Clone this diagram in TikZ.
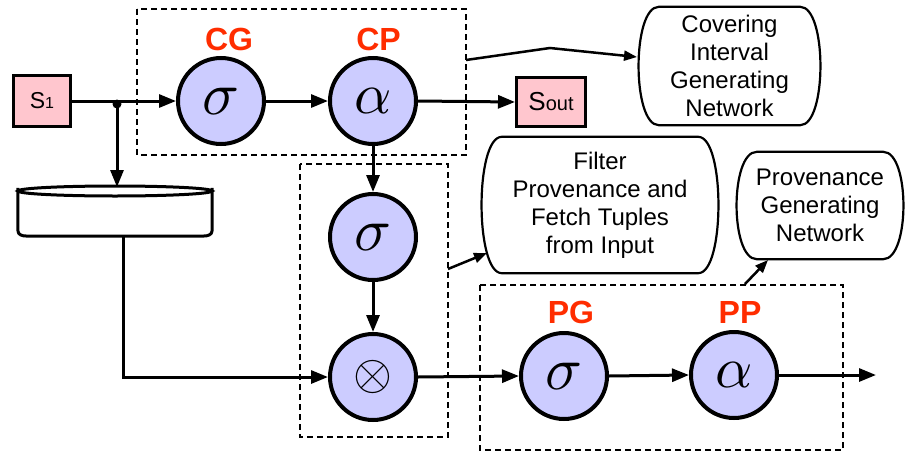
\documentclass[tikz,border=0pt]{standalone}
\usepackage{fontspec}
\usepackage{graphicx}
\setmainfont{Liberation Sans}
\usetikzlibrary{arrows.meta,calc}
\definecolor{cfill}{HTML}{CCCCFF}
\definecolor{pfill}{HTML}{FFC6CE}
\definecolor{lred}{HTML}{FF2D00}
\newcommand\mystad[1]{\draw[line width=2.2] ($(#1.north west)+(20,0)$) -- ($(#1.north east)+(-20,0)$) .. controls ($(#1.north east)+(7,0)$) and ($(#1.south east)+(7,0)$) .. ($(#1.south east)+(-20,0)$) -- ($(#1.south west)+(20,0)$) .. controls ($(#1.south west)+(-7,0)$) and ($(#1.north west)+(-7,0)$) .. cycle;}
\newcommand\bigsym[2]{\scalebox{#1}{$#2$}}
\begin{document}
\begin{tikzpicture}[x=1pt,y=-1pt,
  circ/.style={circle,draw,line width=4,fill=cfill,minimum size=86,inner sep=0pt},
  sbox/.style={draw,line width=3,fill=pfill,inner sep=0pt},
  lab/.style={text=lred,font=\fontsize{32}{32}\selectfont\bfseries},
  conn/.style={line width=3,-{Triangle[length=17pt,width=13pt]}},
  thin/.style={line width=2.5,-{Triangle[length=13pt,width=10pt]}},
  grp/.style={line width=1.9,dash pattern=on 6pt off 4pt},
  txt/.style={align=center,inner sep=0pt,font=\fontsize{24}{28}\selectfont}]
\useasboundingbox (0,0) rectangle (906,453);
% group boxes
\draw[grp] (137,9) rectangle (466,155);
\draw[grp] (300,164) rectangle (448,437);
\draw[grp] (480,285) rectangle (843,450);
% sources / sinks
\node[sbox,minimum width=57,minimum height=51] (s1) at (42,101) {{\fontsize{23}{23}\selectfont S}{\fontsize{16}{16}\selectfont 1}};
\node[sbox,minimum width=69,minimum height=49] (sout) at (551,102) {{\fontsize{26}{26}\selectfont S}{\fontsize{20}{20}\selectfont out}};
% operators
\node[circ] (cg) at (221,101) {\bigsym{6.1}{\sigma}};
\node[circ] (cp) at (373,101) {\bigsym{5.8}{\alpha}};
\node[circ] (sg) at (373,237) {\bigsym{6.1}{\sigma}};
\node[circ] (ot) at (373,377) {\bigsym{5}{\otimes}};
\node[circ] (pg) at (564,376) {\bigsym{6.1}{\sigma}};
\node[circ] (pp) at (734,375) {\bigsym{5.8}{\alpha}};
\node[lab] (lcg) at (229,39) {CG};
\node[lab] (lcp) at (378.5,39) {CP};
\node[lab] (lpg) at (571,312) {PG};
\node[lab] (lpp) at (740,312) {PP};
% database
\node[inner sep=0pt,minimum width=194,minimum height=48] (db) at (115,212) {};
\draw[line width=3,fill=white] (db.north west) -- (18,231) to[out=-90,in=180] (26,236) -- (204,236) to[out=0,in=-90] (212,231) -- (db.north east);
\draw[line width=3,fill=white] (115,191) ellipse [x radius=97,y radius=5];
% rounded text boxes
\node[txt,minimum width=181,minimum height=118] (cov) at (729.5,66) {Covering\\Interval\\Generating\\Network};
\mystad{cov}
\node[txt,minimum width=236,minimum height=136] (fil) at (600,205) {Filter\\Provenance and\\Fetch Tuples\\from Input};
\mystad{fil}
\node[txt,minimum width=166,minimum height=107] (prv) at (820,205.5) {Provenance\\Generating\\Network};
\mystad{prv}
% connectors
\coordinate (jn) at (117,104);
\coordinate (dbin) at (117,187);
\coordinate (dbout) at (123,236);
\coordinate (c1) at (466,60);
\coordinate (covin) at (637,57);
\coordinate (c2) at (448,269);
\coordinate (filin) at (487,253);
\coordinate (c3) at (745,284);
\coordinate (prvin) at (768,260);
\coordinate (outend) at (876,375);
\draw[conn] (s1.east) -- (cg.west);
\fill (jn) circle (4.5);
\draw[conn] (jn) -- (dbin);
\draw[conn] (cg.east) -- (cp.west);
\draw[conn] (cp.east) -- (sout.west);
\draw[conn] (cp.south) -- (sg.north);
\draw[conn] (sg.south) -- (ot.north);
\draw[conn] (dbout) |- (ot.west);
\draw[conn] (ot.east) -- (pg.west);
\draw[conn] (pg.east) -- (pp.west);
\draw[conn] (pp.east) -- (outend);
\draw[thin] (c1) -- (550,48) -- (covin);
\draw[thin] (c2) -- (filin);
\draw[thin] (c3) -- (prvin);
\end{tikzpicture}
\end{document}
